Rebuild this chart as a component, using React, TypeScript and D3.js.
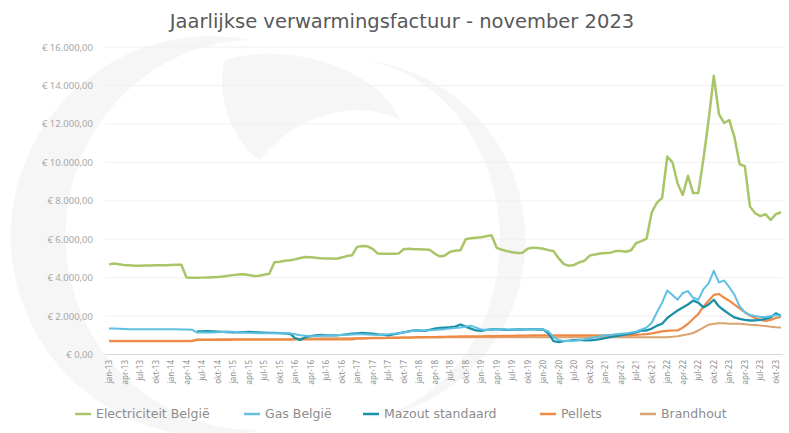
import React from "react";
import * as d3 from "d3";

const MONTHS = ["jan", "feb", "mrt", "apr", "mei", "jun", "jul", "aug", "sep", "okt", "nov", "dec"];
const YEARS = [13, 14, 15, 16, 17, 18, 19, 20, 21, 22, 23];
const categories: string[] = [];
YEARS.forEach((y) => MONTHS.forEach((m) => categories.push(`${m}-${y}`)));
categories.splice(131); // jan-13 .. nov-23

const elektriciteit = [
  4690, 4740, 4700, 4650, 4640, 4620, 4620, 4630, 4630, 4640, 4650, 4650,
  4660, 4670, 4670, 4000, 3990, 3990, 4000, 4010, 4020, 4030, 4060, 4100,
  4130, 4160, 4170, 4140, 4080, 4100, 4150, 4200, 4800, 4830, 4880, 4900,
  4950, 5020, 5070, 5060, 5030, 5010, 5000, 4990, 4980, 5050, 5120, 5160,
  5600, 5640, 5630, 5500, 5250, 5240, 5240, 5240, 5250, 5480, 5500, 5480,
  5470, 5460, 5450, 5250, 5100, 5150, 5350, 5400, 5430, 6000, 6050, 6080,
  6100, 6150, 6200, 5550, 5450, 5380, 5320, 5280, 5290, 5500, 5560, 5540,
  5500, 5430, 5380, 5000, 4700, 4620, 4660, 4800, 4880, 5150, 5200, 5250,
  5280, 5300, 5380, 5380, 5350, 5420, 5800, 5900, 6030, 7400, 7900, 8150,
  10300, 10000, 8900, 8300, 9300, 8400, 8400, 10200, 12200, 14500, 12500, 12050,
  12200, 11300, 9900, 9800, 7700, 7350, 7200, 7300, 7000, 7300, 7400,
];

const gas = [
  1350, 1350, 1340, 1330, 1320, 1320, 1320, 1310, 1310, 1320, 1320, 1320,
  1320, 1310, 1300, 1300, 1290, 1150, 1140, 1140, 1150, 1160, 1170, 1180,
  1180, 1160, 1150, 1130, 1120, 1110, 1100, 1100, 1100, 1110, 1110, 1100,
  1050, 1000, 980, 950, 960, 980, 990, 1000, 1010, 1020, 1030, 1040,
  1050, 1060, 1040, 1030, 1020, 1030, 1050, 1080, 1100, 1150, 1200, 1230,
  1250, 1250, 1260, 1280, 1300, 1320, 1350, 1380, 1400, 1450, 1500, 1400,
  1300, 1280, 1300, 1320, 1330, 1300, 1300, 1300, 1310, 1320, 1320, 1310,
  1300, 1200, 900, 750, 700, 700, 720, 750, 800, 850, 900, 950,
  1000, 1020, 1050, 1080, 1100, 1150, 1200, 1300, 1400, 1650, 2200, 2700,
  3330, 3100, 2850, 3200, 3300, 2950, 2850, 3400, 3700, 4350, 3750, 3850,
  3500, 3100, 2500, 2200, 2050, 2000, 1950, 1950, 2000, 2050, 2000,
];

const mazout: (number | null)[] = [
  null, null, null, null, null, null, null, null, null, null, null, null,
  null, null, null, null, null, 1200, 1200, 1210, 1200, 1190, 1180, 1170,
  1150, 1150, 1160, 1170, 1160, 1150, 1140, 1130, 1120, 1110, 1100, 1080,
  850, 760, 900, 950, 1000, 1020, 1000, 990, 1000, 1020, 1050, 1080,
  1100, 1120, 1100, 1080, 1050, 1030, 1000, 1050, 1100, 1150, 1200, 1250,
  1250, 1230, 1280, 1350, 1380, 1400, 1420, 1450, 1560, 1450, 1350, 1250,
  1230, 1280, 1300, 1320, 1300, 1280, 1290, 1300, 1300, 1310, 1320, 1300,
  1300, 1100, 700, 650, 700, 720, 750, 760, 740, 730, 760, 800,
  850, 900, 950, 1000, 1050, 1100, 1150, 1250, 1250, 1350, 1500, 1600,
  1900, 2100, 2290, 2450, 2600, 2800, 2700, 2450, 2600, 2850, 2500, 2290,
  2100, 1930, 1850, 1800, 1770, 1780, 1800, 1850, 1930, 2140, 2000,
];

const pellets = [
  690, 690, 690, 690, 690, 690, 690, 690, 690, 690, 690, 690,
  690, 690, 690, 690, 690, 760, 760, 760, 760, 760, 760, 760,
  770, 770, 770, 770, 770, 770, 770, 770, 770, 770, 770, 770,
  780, 780, 780, 780, 780, 780, 780, 780, 780, 790, 790, 790,
  820, 830, 840, 850, 850, 850, 860, 860, 870, 880, 880, 890,
  900, 900, 910, 910, 920, 920, 930, 930, 940, 940, 950, 950,
  950, 960, 960, 960, 970, 970, 970, 980, 980, 980, 990, 990,
  1000, 1000, 1000, 1000, 1000, 1000, 1000, 1000, 1000, 1000, 1000, 1000,
  1000, 1000, 1000, 1000, 1000, 1010, 1020, 1040, 1060, 1100, 1150, 1200,
  1230, 1250, 1250, 1400, 1600, 1850, 2100, 2500, 2800, 3100, 3150, 2950,
  2800, 2600, 2400, 2200, 2030, 1900, 1800, 1750, 1800, 1900, 1950,
];

const brandhout = [
  720, 720, 720, 720, 720, 720, 720, 720, 720, 720, 720, 720,
  720, 720, 720, 720, 720, 780, 780, 780, 780, 790, 790, 790,
  790, 790, 800, 800, 800, 800, 800, 800, 800, 800, 800, 800,
  820, 820, 830, 830, 830, 840, 840, 840, 840, 850, 850, 850,
  860, 860, 860, 870, 870, 870, 870, 880, 880, 880, 880, 880,
  890, 890, 890, 890, 890, 900, 900, 900, 900, 900, 900, 900,
  900, 900, 900, 900, 900, 900, 900, 900, 900, 900, 900, 900,
  900, 900, 900, 900, 900, 900, 900, 900, 900, 900, 900, 900,
  900, 900, 900, 900, 900, 900, 900, 900, 900, 900, 900, 900,
  900, 920, 950, 1000, 1050, 1120, 1250, 1400, 1550, 1600, 1620, 1620,
  1600, 1600, 1600, 1580, 1550, 1530, 1510, 1480, 1450, 1420, 1400,
];

const yTicks = [0, 2000, 4000, 6000, 8000, 10000, 12000, 14000, 16000];

const seriesNames = ["Electriciteit België", "Gas België", "Mazout standaard", "Pellets", "Brandhout"];
const seriesColors = ["#a8c668", "#5fc0e2", "#1a90a9", "#ef8a45", "#dca372"];
const seriesWidths = [2.5, 2, 2.3, 2.2, 2];

const W = 789;
const H = 433;

function fmtEuro(v: number) {
  const s = d3.format(",.2f")(v); // 16,000.00
  return "€ " + s.replace(/,/g, "#").replace(/\./g, ",").replace(/#/g, ".");
}

export default function App() {
  const x = d3.scaleLinear().domain([0, 130]).range([109, 781]);
  const y = d3.scaleLinear().domain([0, 16000]).range([354.5, 47]);
  const data = [elektriciteit, gas, mazout, pellets, brandhout];
  const line = d3
    .line<number | null>()
    .defined((d) => d !== null)
    .x((_, i) => x(i))
    .y((d) => y(d as number));

  const labelIdx = categories.map((_, i) => i).filter((i) => i % 3 === 0);
  const legendX = [75, 244, 363, 540, 640];

  return (
    <svg
      width={W}
      height={H}
      style={{ position: "absolute", left: 0, top: 0, background: "#fff" }}
      fontFamily="'Noto Sans', sans-serif"
    >
      {/* watermark */}
      <g fill="#f6f6f6">
        <path d="M 250 40 A 200 200 0 1 0 260 430 A 170 175 0 1 1 250 40 Z" />
        <path d="M 330 60 A 180 180 0 0 1 360 420 A 150 175 0 0 0 330 60 Z" />
        <path d="M 225 60 C 290 40 380 70 400 120 C 360 100 300 110 260 160 C 230 140 215 90 225 60 Z" />
      </g>
      <text x={402} y={28} textAnchor="middle" fontSize={19.5} fill="#595959" fontFamily="'DejaVu Sans', sans-serif">
        Jaarlijkse verwarmingsfactuur - november 2023
      </text>
      {yTicks.map((t) => (
        <g key={t}>
          {t > 0 && <line x1={105} x2={783} y1={y(t)} y2={y(t)} stroke="#f0f0f0" strokeWidth={1} />}
          <text x={93} y={y(t) + 3.5} textAnchor="end" fontSize={9.5} fill="#a6a6a6">
            {t === 0 ? "€ 0,00" : fmtEuro(t)}
          </text>
        </g>
      ))}
      <line x1={105} x2={783} y1={y(0)} y2={y(0)} stroke="#d9d9d9" strokeWidth={1} />
      {labelIdx.map((i) => (
        <text
          key={i}
          transform={`translate(${x(i) + 3},${360}) rotate(-90)`}
          textAnchor="end"
          fontSize={8}
          fill="#8c8c8c"
        >
          {categories[i]}
        </text>
      ))}
      {[4, 3, 2, 1, 0].map((k) => (
        <path
          key={k}
          d={line(data[k] as (number | null)[]) || ""}
          fill="none"
          stroke={seriesColors[k]}
          strokeWidth={seriesWidths[k]}
          strokeLinejoin="round"
        />
      ))}
      {seriesNames.map((n, k) => (
        <g key={n}>
          <line x1={legendX[k]} x2={legendX[k] + 16} y1={414} y2={414} stroke={seriesColors[k]} strokeWidth={2.5} />
          <text x={legendX[k] + 21} y={418} fontSize={12.5} fill="#8c8c8c" fontFamily="'DejaVu Sans', sans-serif">
            {n}
          </text>
        </g>
      ))}
    </svg>
  );
}
